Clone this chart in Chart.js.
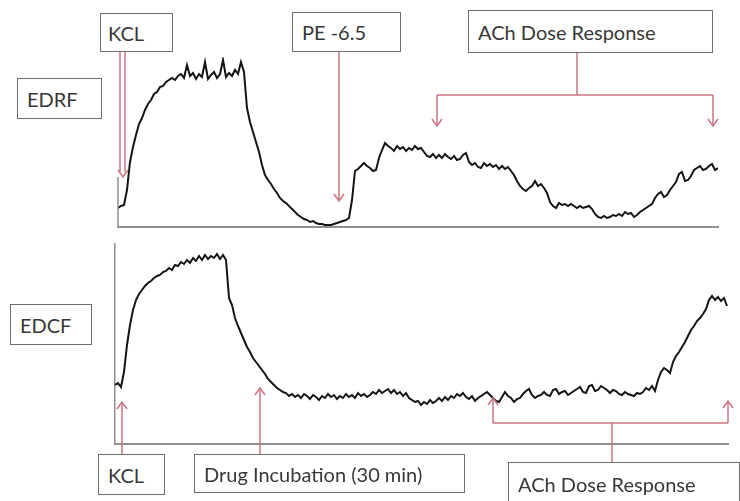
<!DOCTYPE html>
<html>
<head>
<meta charset="utf-8">
<script src="https://cdn.jsdelivr.net/npm/chart.js@4.4.0/dist/chart.umd.min.js"></script>
<style>
  body { margin: 0; background: #fff; overflow: hidden; }
  #wrap { position: relative; width: 740px; height: 501px; background: #fff; }
  canvas { position: absolute; left: 0; top: 0; }
  .box {
    position: absolute; box-sizing: border-box; background: #fff;
    border: 1.5px solid #6e6e6e; color: #383838;
    font-family: Lato, "Open Sans", sans-serif; font-size: 20px;
    display: flex; align-items: center; padding-left: 9px; white-space: nowrap;
  }
</style>
</head>
<body>
<div id="wrap">
  <canvas id="edrf" width="740" height="501"></canvas>
  <canvas id="edcf" width="740" height="501"></canvas>
  <div class="box" style="left:100px;top:13px;width:73px;height:39px;padding-left:7px">KCL</div>
  <div class="box" style="left:292px;top:12px;width:109px;height:40px">PE -6.5</div>
  <div class="box" style="left:468px;top:10px;width:245px;height:43px">ACh Dose Response</div>
  <div class="box" style="left:17px;top:78px;width:85px;height:41px">EDRF</div>
  <div class="box" style="left:10px;top:304px;width:82px;height:41px">EDCF</div>
  <div class="box" style="left:98px;top:454px;width:67px;height:41px">KCL</div>
  <div class="box" style="left:194px;top:454px;width:271px;height:39px">Drug Incubation (30 min)</div>
  <div class="box" style="left:508px;top:462px;width:232px;height:44px">ACh Dose Response</div>
</div>
<script>
// sampling interval of both recordings (time units)
const STEP = 3;

// EDRF trace (top), tension values, one every STEP from t = 0
const edrfValues = [
  1.9, 2.1, 2.2, 3.7, 6.5, 8.0, 9.2, 10.3, 10.9, 11.7, 12.3, 12.7, 13.3, 13.5, 14.0, 14.1, 14.5, 14.7, 14.9, 14.7,
  15.1, 15.3, 14.9, 16.2, 15.1, 15.4, 14.8, 15.3, 15.0, 16.5, 14.8, 15.2, 15.5, 14.9, 15.3, 16.7, 15.0, 15.4, 15.1, 15.7,
  15.3, 16.5, 15.5, 11.9, 10.5, 9.5, 8.5, 7.5, 6.2, 5.2, 4.7, 4.3, 3.8, 3.4, 2.9, 2.6, 2.4, 2.1, 1.8, 1.5,
  1.2, 1.0, 0.8, 0.7, 0.5, 0.6, 0.4, 0.3, 0.3, 0.2, 0.2, 0.2, 0.3, 0.4, 0.5, 0.6, 0.7, 0.9, 2.7, 5.6,
  5.8, 6.1, 6.4, 6.1, 5.9, 5.6, 5.7, 6.9, 7.7, 8.4, 8.1, 7.9, 7.6, 8.1, 7.8, 8.0, 7.6, 7.9, 7.7, 8.1,
  7.8, 7.9, 7.5, 7.1, 7.0, 7.3, 6.9, 7.2, 6.9, 7.3, 7.0, 6.8, 7.1, 6.7, 6.8, 7.2, 7.4, 6.5, 6.2, 6.4,
  6.0, 5.9, 6.4, 6.1, 6.3, 6.0, 6.2, 5.8, 6.1, 5.8, 6.0, 5.6, 5.2, 4.6, 4.1, 3.8, 3.6, 3.9, 4.1, 4.6,
  4.1, 4.3, 3.9, 3.4, 2.5, 2.1, 1.9, 2.4, 2.2, 2.3, 2.1, 2.3, 2.1, 1.9, 2.1, 1.9, 2.0, 2.1, 1.8, 1.3,
  1.0, 0.9, 1.1, 0.9, 1.0, 1.2, 1.1, 1.3, 1.1, 1.5, 1.3, 1.4, 1.0, 1.2, 1.5, 1.7, 1.9, 2.1, 2.3, 2.9,
  3.3, 3.5, 3.0, 3.2, 3.7, 4.1, 4.5, 5.3, 5.5, 4.6, 4.7, 5.1, 5.7, 5.9, 6.1, 5.7, 5.8, 6.1, 6.3, 5.7,
  5.9
];

// EDCF trace (bottom)
const edcfValues = [
  5.9, 6.1, 5.7, 7.2, 9.9, 11.9, 13.4, 14.4, 15.0, 15.4, 15.8, 16.1, 16.3, 16.6, 16.8, 16.9, 17.2, 17.3, 17.6, 17.4,
  17.9, 17.8, 18.2, 18.0, 18.4, 18.1, 18.6, 18.3, 18.8, 18.4, 18.9, 18.5, 18.8, 18.6, 19.0, 18.5, 18.9, 18.4, 14.6, 13.9,
  12.6, 11.8, 11.1, 10.4, 9.7, 9.2, 8.6, 8.2, 7.8, 7.4, 7.0, 6.5, 6.2, 5.9, 5.6, 5.4, 5.2, 5.1, 4.8, 5.0,
  4.7, 4.9, 4.6, 5.0, 4.8, 4.5, 4.9, 4.7, 4.4, 4.8, 4.6, 5.0, 4.7, 4.9, 4.5, 4.8, 4.6, 5.0, 4.7, 4.9,
  4.6, 5.1, 4.8, 5.0, 4.7, 4.9, 5.2, 5.0, 5.4, 5.1, 5.3, 5.5, 5.1, 5.4, 5.0, 5.2, 4.8, 5.1, 4.6, 4.4,
  4.2, 4.3, 3.9, 4.2, 4.0, 4.4, 4.1, 4.3, 4.6, 4.3, 4.7, 4.4, 4.8, 4.6, 5.0, 4.8, 5.1, 4.7, 4.5, 4.8,
  4.3, 4.6, 4.8, 5.0, 5.2, 4.9, 4.6, 4.3, 4.2, 4.7, 5.2, 4.8, 4.6, 4.2, 4.5, 4.6, 5.0, 5.3, 5.5, 4.9,
  4.6, 4.8, 4.9, 5.2, 4.9, 4.8, 5.4, 5.5, 5.0, 5.2, 5.3, 4.9, 5.1, 5.3, 5.5, 5.7, 5.2, 5.1, 5.8, 5.9,
  5.3, 5.4, 5.8, 5.6, 5.4, 5.1, 5.4, 5.3, 5.0, 4.9, 5.2, 5.0, 4.9, 4.8, 5.1, 5.0, 5.2, 5.6, 5.4, 5.8,
  5.3, 6.4, 7.2, 7.6, 7.4, 7.1, 8.2, 8.8, 9.2, 9.7, 10.2, 10.8, 11.4, 11.8, 12.3, 12.6, 13.0, 13.5, 14.4, 14.8,
  14.4, 14.7, 14.3, 14.6, 13.8
];

// event times (same time units as the traces)
const edrfKcl = 5;
const edrfPe = 221;
const edrfAch = [319, 595];
const edrfAchStem = 459;
const edcfKcl = 7;
const edcfDrug = 145;
const edcfAch = [378, 613];
const edcfAchStem = 497;

const pink = '#cc7480';
const axisGrey = '#8f8f8f';

function toPoints(values) {
  return values.map((v, i) => ({ x: i * STEP, y: v }));
}

function line(ctx, x1, y1, x2, y2) {
  ctx.beginPath();
  ctx.moveTo(x1, y1);
  ctx.lineTo(x2, y2);
  ctx.stroke();
}

function head(ctx, x, y, dir) {
  // dir 1 = pointing down, -1 = pointing up
  ctx.beginPath();
  ctx.moveTo(x - 5, y - dir * 7);
  ctx.lineTo(x, y);
  ctx.lineTo(x + 5, y - dir * 7);
  ctx.stroke();
}

function traceOptions(xMax, yMax, padding, showYBorder) {
  return {
    responsive: false,
    animation: false,
    events: [],
    layout: { padding: padding },
    plugins: { legend: { display: false }, tooltip: { enabled: false } },
    scales: {
      x: {
        type: 'linear', min: 0, max: xMax,
        ticks: { display: false },
        grid: { display: false },
        border: { display: true, color: axisGrey, width: 2 },
        afterFit: s => { s.height = 0; }
      },
      y: {
        min: 0, max: yMax,
        ticks: { display: false },
        grid: { display: false },
        border: { display: showYBorder, color: axisGrey, width: 1.5 },
        afterFit: s => { s.width = 0; }
      }
    }
  };
}

const edrfMarks = {
  id: 'edrfMarks',
  afterDatasetsDraw(chart) {
    const ctx = chart.ctx, x = chart.scales.x, y = chart.scales.y;
    ctx.save();
    // short left axis stub
    ctx.strokeStyle = axisGrey; ctx.lineWidth = 1.5;
    line(ctx, x.left, y.getPixelForValue(5), x.left, y.getPixelForValue(0));
    ctx.strokeStyle = pink; ctx.lineWidth = 1.5;
    // KCL: hollow arrow
    const k = x.getPixelForValue(edrfKcl);
    line(ctx, k - 3, 52, k - 3, 172);
    line(ctx, k + 2, 52, k + 2, 172);
    head(ctx, k, 177, 1);
    // PE -6.5
    const p = x.getPixelForValue(edrfPe);
    line(ctx, p, 52, p, 201);
    head(ctx, p, 201, 1);
    // ACh bracket
    const a0 = x.getPixelForValue(edrfAch[0]), a1 = x.getPixelForValue(edrfAch[1]);
    const s = x.getPixelForValue(edrfAchStem);
    line(ctx, s, 53, s, 95);
    line(ctx, a0, 95, a1, 95);
    line(ctx, a0, 95, a0, 126); head(ctx, a0, 126, 1);
    line(ctx, a1, 95, a1, 126); head(ctx, a1, 126, 1);
    ctx.restore();
  }
};

const edcfMarks = {
  id: 'edcfMarks',
  afterDatasetsDraw(chart) {
    const ctx = chart.ctx, x = chart.scales.x;
    ctx.save();
    ctx.strokeStyle = pink; ctx.lineWidth = 1.5;
    const k = x.getPixelForValue(edcfKcl);
    line(ctx, k, 454, k, 402); head(ctx, k, 402, -1);
    const d = x.getPixelForValue(edcfDrug);
    line(ctx, d, 454, d, 388); head(ctx, d, 388, -1);
    const a0 = x.getPixelForValue(edcfAch[0]), a1 = x.getPixelForValue(edcfAch[1]);
    const s = x.getPixelForValue(edcfAchStem);
    line(ctx, s, 462, s, 423);
    line(ctx, a0, 423, a1, 423);
    line(ctx, a0, 423, a0, 398); head(ctx, a0, 398, -1);
    line(ctx, a1, 423, a1, 401); head(ctx, a1, 401, -1);
    ctx.restore();
  }
};

function dataset(values) {
  return {
    data: toPoints(values),
    borderColor: '#141414',
    borderWidth: 2,
    pointRadius: 0,
    tension: 0,
    fill: false
  };
}

new Chart(document.getElementById('edcf').getContext('2d'), {
  type: 'line',
  data: { datasets: [dataset(edcfValues)] },
  options: traceOptions(613, 20, { left: 115, right: 12, top: 244, bottom: 57 }, true),
  plugins: [edcfMarks]
});

new Chart(document.getElementById('edrf').getContext('2d'), {
  type: 'line',
  data: { datasets: [dataset(edrfValues)] },
  options: traceOptions(600, 17, { left: 118, right: 22, top: 57, bottom: 274 }, false),
  plugins: [edrfMarks]
});
</script>
</body>
</html>
